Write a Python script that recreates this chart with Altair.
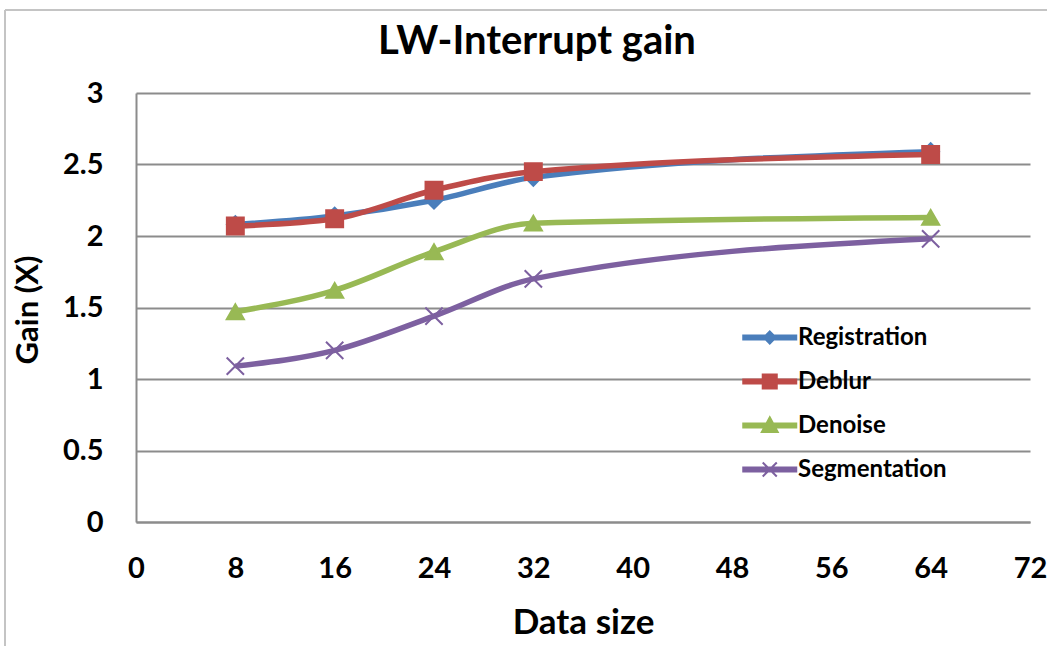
import altair as alt
import pandas as pd

# ---- data ----
data_sizes = [8, 16, 24, 32, 64]
series_names = ["Registration", "Deblur", "Denoise", "Segmentation"]
registration = [2.08, 2.14, 2.25, 2.41, 2.59]
deblur = [2.07, 2.12, 2.32, 2.45, 2.57]
denoise = [1.47, 1.62, 1.89, 2.09, 2.13]
segmentation = [1.09, 1.20, 1.44, 1.70, 1.98]
x_ticks = [0, 8, 16, 24, 32, 40, 48, 56, 64, 72]
y_ticks = [0, 0.5, 1, 1.5, 2, 2.5, 3]

# ---- styles ----
series_colors = ["#4A7EBB", "#BE4B48", "#98B954", "#7D60A0"]
marker_shapes = ["diamond", "square", "triangle-up", "M-1,-1L1,1M-1,1L1,-1"]
marker_sizes = [280, 300, 380, 300]
legend_paths = [
    "M-1,-0.15H3V0.15H-1Z M1,-0.45L1.45,0L1,0.45L0.55,0Z",
    "M-1,-0.15H3V0.15H-1Z M0.47,-0.53H1.53V0.53H0.47Z",
    "M-1,-0.15H3V0.15H-1Z M1,-0.62L1.6,0.5H0.4Z",
    "M-1,-0.15H3V0.15H-1Z M0.47,-0.53L1.53,0.53M0.47,0.53L1.53,-0.53",
]
FONT = "Lato"
GRID = "#8C8C8C"

rows = []
for name, vals in zip(series_names, [registration, deblur, denoise, segmentation]):
    for s, v in zip(data_sizes, vals):
        rows.append({"size": s, "gain": v, "series": name})
df = pd.DataFrame(rows)

W, H = 894, 429

x_enc = alt.X(
    "size:Q",
    scale=alt.Scale(domain=[0, 72], nice=False, zero=True),
    axis=alt.Axis(
        values=x_ticks, title="Data size", grid=False, ticks=False,
        domainColor=GRID, domainWidth=2,
        labelFont=FONT, labelFontWeight="bold", labelFontSize=29, labelColor="black",
        labelPadding=32, labelFlush=False,
        titleFont=FONT, titleFontWeight="bold", titleFontSize=35, titleColor="black",
        titleBaseline="middle", titleY=100,
    ),
)
y_enc = alt.Y(
    "gain:Q",
    scale=alt.Scale(domain=[0, 3], nice=False),
    axis=alt.Axis(
        values=y_ticks, format="~g", title="Gain (X)", grid=True, ticks=False,
        gridColor=GRID, gridWidth=2, domainColor=GRID, domainWidth=2,
        labelFont=FONT, labelFontWeight="bold", labelFontSize=29, labelColor="black",
        labelPadding=33,
        titleFont=FONT, titleFontWeight="bold", titleFontSize=31, titleColor="black",
        titleBaseline="middle", titleX=-108, titleY=H / 2 + 2, titleAngle=-90,
    ),
)

color_scale = alt.Scale(domain=series_names, range=series_colors)

base = alt.Chart(df)

lines = base.mark_line(interpolate="monotone", strokeWidth=5.5).encode(
    x=x_enc, y=y_enc,
    color=alt.Color("series:N", scale=color_scale, legend=None),
)

points = base.mark_point(filled=True, opacity=1, strokeWidth=2).encode(
    x=x_enc, y=y_enc,
    color=alt.Color("series:N", scale=color_scale, legend=None),
    stroke=alt.Stroke("series:N", scale=color_scale, legend=None),
    shape=alt.Shape("series:N", scale=alt.Scale(domain=series_names, range=marker_shapes), legend=None),
    size=alt.Size("series:N", scale=alt.Scale(domain=series_names, range=marker_sizes), legend=None),
)

leg = alt.Legend(
    title=None, orient="none", legendX=606, legendY=230, direction="vertical",
    symbolSize=702, symbolStrokeWidth=2, symbolOpacity=1,
    labelFont=FONT, labelFontWeight="bold", labelFontSize=24, labelColor="black",
    labelOffset=27, rowPadding=17, padding=0,
)
legend_layer = base.transform_filter("false").mark_point(filled=True, opacity=1).encode(
    x=x_enc, y=y_enc,
    color=alt.Color("series:N", scale=color_scale, legend=leg),
    stroke=alt.Stroke("series:N", scale=color_scale, legend=leg),
    shape=alt.Shape("series:N", scale=alt.Scale(domain=series_names, range=legend_paths), legend=leg),
)

border_df = pd.DataFrame({"k": [0]})
left_border = alt.Chart(border_df).mark_rule(color="#C4C4C4", strokeWidth=2).encode(
    x=alt.value(-131), y=alt.value(-83), y2=alt.value(553)
)
top_border = alt.Chart(border_df).mark_rule(color="#C4C4C4", strokeWidth=2).encode(
    x=alt.value(-131), x2=alt.value(911), y=alt.value(-83)
)

chart = (
    alt.layer(left_border, top_border, lines, points, legend_layer)
    .resolve_scale(color="independent", shape="independent", stroke="independent")
    .properties(
        width=W, height=H,
        title=alt.TitleParams(
            "LW-Interrupt gain", font=FONT, fontWeight="bold", fontSize=40, color="black",
            anchor="middle", dx=-46, offset=-53,
        ),
        autosize=alt.AutoSizeParams(type="none"),
        padding={"left": 136, "top": 93, "right": 17, "bottom": 124},
        background="white",
    )
    .configure_view(stroke=None)
)

chart.save("out.html", embed_options={"renderer": "svg", "actions": False})
